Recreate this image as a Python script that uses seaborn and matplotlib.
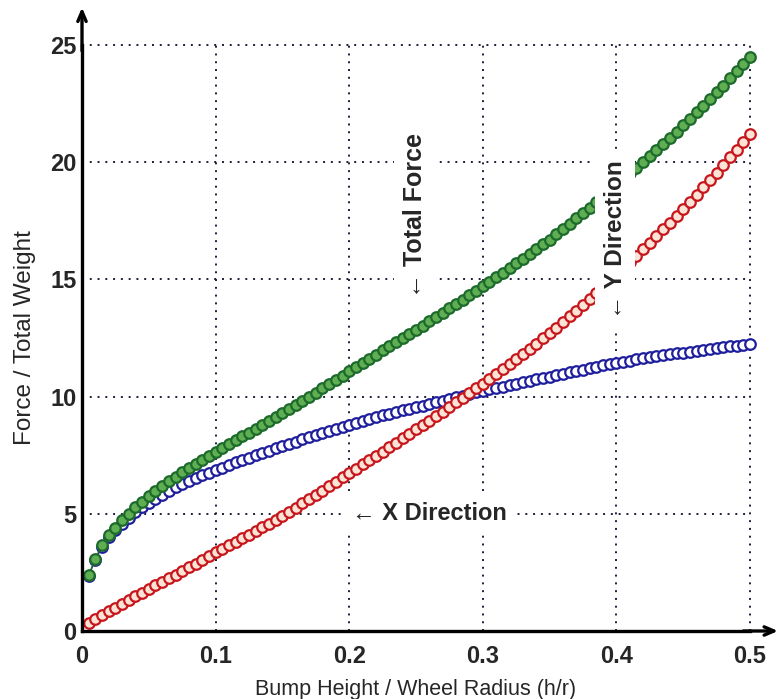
import numpy as np
import pandas as pd
import matplotlib
matplotlib.use("Agg")
import matplotlib.pyplot as plt
import seaborn as sns

# bump height / wheel radius (h/r) sample points
h_over_r = [
    0.005, 0.010, 0.015, 0.020, 0.025, 0.030, 0.035, 0.040, 0.045, 0.050,
    0.055, 0.060, 0.065, 0.070, 0.075, 0.080, 0.085, 0.090, 0.095, 0.100,
    0.105, 0.110, 0.115, 0.120, 0.125, 0.130, 0.135, 0.140, 0.145, 0.150,
    0.155, 0.160, 0.165, 0.170, 0.175, 0.180, 0.185, 0.190, 0.195, 0.200,
    0.205, 0.210, 0.215, 0.220, 0.225, 0.230, 0.235, 0.240, 0.245, 0.250,
    0.255, 0.260, 0.265, 0.270, 0.275, 0.280, 0.285, 0.290, 0.295, 0.300,
    0.305, 0.310, 0.315, 0.320, 0.325, 0.330, 0.335, 0.340, 0.345, 0.350,
    0.355, 0.360, 0.365, 0.370, 0.375, 0.380, 0.385, 0.390, 0.395, 0.400,
    0.405, 0.410, 0.415, 0.420, 0.425, 0.430, 0.435, 0.440, 0.445, 0.450,
    0.455, 0.460, 0.465, 0.470, 0.475, 0.480, 0.485, 0.490, 0.495, 0.500,
]

# force / total weight
total_force = [
    2.38, 3.09, 3.66, 4.09, 4.41, 4.72, 5.01, 5.27, 5.52, 5.76,
    5.98, 6.19, 6.39, 6.58, 6.77, 6.95, 7.12, 7.30, 7.47, 7.63,
    7.80, 7.97, 8.13, 8.30, 8.46, 8.63, 8.79, 8.96, 9.13, 9.30,
    9.47, 9.64, 9.82, 9.99, 10.17, 10.35, 10.53, 10.72, 10.90, 11.09,
    11.26, 11.44, 11.61, 11.79, 11.97, 12.14, 12.32, 12.49, 12.67, 12.85,
    13.03, 13.21, 13.39, 13.57, 13.76, 13.95, 14.14, 14.33, 14.52, 14.71,
    14.90, 15.10, 15.29, 15.48, 15.68, 15.88, 16.09, 16.29, 16.50, 16.70,
    16.93, 17.15, 17.37, 17.60, 17.82, 18.06, 18.30, 18.54, 18.79, 19.02,
    19.27, 19.52, 19.77, 20.01, 20.26, 20.52, 20.78, 21.04, 21.30, 21.57,
    21.85, 22.13, 22.41, 22.70, 22.98, 23.27, 23.58, 23.88, 24.18, 24.49,
]

x_direction = [
    2.35, 3.05, 3.60, 4.00, 4.30, 4.58, 4.83, 5.06, 5.27, 5.47,
    5.65, 5.82, 5.98, 6.13, 6.27, 6.40, 6.52, 6.64, 6.75, 6.86,
    6.97, 7.08, 7.19, 7.30, 7.40, 7.50, 7.60, 7.70, 7.80, 7.90,
    7.99, 8.08, 8.17, 8.26, 8.35, 8.44, 8.53, 8.62, 8.71, 8.80,
    8.88, 8.96, 9.04, 9.12, 9.20, 9.27, 9.34, 9.41, 9.48, 9.55,
    9.62, 9.69, 9.76, 9.83, 9.90, 9.97, 10.04, 10.11, 10.18, 10.25,
    10.31, 10.37, 10.43, 10.49, 10.55, 10.61, 10.67, 10.73, 10.79, 10.85,
    10.91, 10.97, 11.03, 11.09, 11.15, 11.21, 11.27, 11.33, 11.39, 11.44,
    11.49, 11.54, 11.59, 11.64, 11.68, 11.72, 11.76, 11.80, 11.84, 11.88,
    11.92, 11.96, 12.00, 12.04, 12.07, 12.10, 12.14, 12.18, 12.22, 12.26,
]

y_direction = [
    0.35, 0.50, 0.67, 0.84, 1.00, 1.16, 1.32, 1.48, 1.64, 1.80,
    1.95, 2.10, 2.25, 2.40, 2.55, 2.71, 2.87, 3.03, 3.19, 3.35,
    3.50, 3.65, 3.80, 3.95, 4.10, 4.26, 4.42, 4.58, 4.74, 4.90,
    5.08, 5.26, 5.44, 5.62, 5.80, 5.99, 6.18, 6.37, 6.56, 6.75,
    6.93, 7.11, 7.29, 7.47, 7.65, 7.84, 8.03, 8.22, 8.41, 8.60,
    8.79, 8.98, 9.17, 9.36, 9.55, 9.75, 9.95, 10.15, 10.35, 10.55,
    10.76, 10.97, 11.18, 11.39, 11.60, 11.82, 12.04, 12.26, 12.48, 12.70,
    12.94, 13.18, 13.42, 13.66, 13.90, 14.16, 14.42, 14.68, 14.94, 15.20,
    15.47, 15.74, 16.01, 16.28, 16.55, 16.84, 17.13, 17.42, 17.71, 18.00,
    18.31, 18.62, 18.93, 19.24, 19.55, 19.88, 20.21, 20.54, 20.87, 21.20,
]

x_ticks = [0, 0.1, 0.2, 0.3, 0.4, 0.5]
x_tick_labels = ["0", "0.1", "0.2", "0.3", "0.4", "0.5"]
y_ticks = [0, 5, 10, 15, 20, 25]
y_tick_labels = ["0", "5", "10", "15", "20", "25"]

df = pd.DataFrame({
    "h_r": h_over_r,
    "total": total_force,
    "x_dir": x_direction,
    "y_dir": y_direction,
})

sns.set_style("white")
plt.rcParams["font.family"] = ["Liberation Sans", "DejaVu Sans"]

fig = plt.figure(figsize=(7.81, 6.99), dpi=100)
ax = fig.add_axes([82 / 781, 68 / 699, 668 / 781, 586 / 699])

# series -> (line colour, marker face); green last so it sits on top at the start
series = [
    ("x_dir", "#1f1f9e", "#ffffff"),
    ("y_dir", "#c8161d", "#fbe3d6"),
    ("total", "#1d6b2c", "#5fae52"),
]
for col, edge, face in series:
    sns.lineplot(data=df, x="h_r", y=col, ax=ax, color=edge, lw=1.0,
                 marker="o", markersize=7.6, markerfacecolor=face,
                 markeredgecolor=edge, markeredgewidth=1.6,
                 clip_on=False, zorder=3)

ax.set_xlim(0, 0.5)
ax.set_ylim(0, 25)
ax.set_xticks(x_ticks)
ax.set_xticklabels(x_tick_labels)
ax.set_yticks(y_ticks)
ax.set_yticklabels(y_tick_labels)
ax.tick_params(direction="in", length=5, width=1.5, labelsize=17)
ax.tick_params(axis="x", pad=10)
ax.tick_params(axis="y", pad=4)
for lab in ax.get_xticklabels() + ax.get_yticklabels():
    lab.set_fontweight("bold")

ax.grid(True, linestyle=(0, (1, 3)), color="#1c1c3a", lw=1.4)
for gl in ax.get_xgridlines() + ax.get_ygridlines():
    gl.set_clip_on(False)

for side in ["top", "right"]:
    ax.spines[side].set_visible(False)
for side in ["left", "bottom"]:
    ax.spines[side].set_linewidth(2.4)
    ax.spines[side].set_color("black")
    ax.spines[side].set_zorder(4)

# arrow heads on both axes
arrow = dict(arrowstyle="->,head_length=0.7,head_width=0.3", lw=2.4,
             color="black", shrinkA=0, shrinkB=0)
ax.annotate("", xy=(0, 1.064), xytext=(0, 0.99), xycoords="axes fraction",
            arrowprops=arrow)
ax.annotate("", xy=(1.042, 0), xytext=(0.99, 0), xycoords="axes fraction",
            arrowprops=arrow)

ax.set_xlabel("Bump Height / Wheel Radius (h/r)", fontsize=15.5, labelpad=8)
ax.set_ylabel("Force / Total Weight", fontsize=17.5, labelpad=10)

box = dict(facecolor="white", edgecolor="none", pad=6)
ax.text(0.249, 14.2, "← Total Force", rotation=90, ha="center", va="bottom",
        fontsize=18, fontweight="bold", bbox=box, zorder=6)
ax.text(0.399, 13.3, "← Y Direction", rotation=90, ha="center", va="bottom",
        fontsize=17.5, fontweight="bold", bbox=box, zorder=6)
ax.text(0.202, 5.0, "← X Direction", ha="left", va="center",
        fontsize=17, fontweight="bold", bbox=box, zorder=6)

fig.savefig("out.png", dpi=100)
